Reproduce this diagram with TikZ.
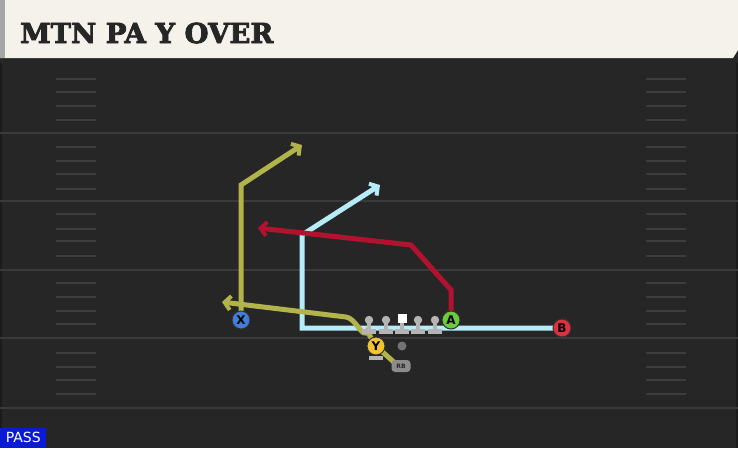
\documentclass[tikz,border=0pt]{standalone}
\usepackage{fontspec}
\setmainfont{DejaVu Sans}
\newfontfamily\titlefont[FakeBold=3]{DejaVu Serif Bold}
\usetikzlibrary{arrows.meta}
\definecolor{fieldbg}{HTML}{262626}
\definecolor{yardc}{HTML}{3A3A3A}
\definecolor{hashc}{HTML}{3D3D3D}
\definecolor{titlebg}{HTML}{F5F2EB}
\definecolor{olive}{HTML}{B3B34C}
\definecolor{lblue}{HTML}{B5ECF7}
\definecolor{rred}{HTML}{B3122E}
\definecolor{xblue}{HTML}{3F7FDB}
\definecolor{agreen}{HTML}{6CCB3A}
\definecolor{bred}{HTML}{E0303F}
\definecolor{yyellow}{HTML}{F2C331}
\definecolor{olgray}{HTML}{B4B4B4}
\definecolor{passblue}{HTML}{0A1BD6}
\tikzset{
  route/.style={line width=5pt, line join=miter},
  routetip/.style={-{Straight Barb[length=6pt,width=14pt,line width=4pt]}},
  player/.style={circle, draw=black!80, line width=1pt, minimum size=18pt, inner sep=0pt, font=\bfseries\fontsize{12}{12}\selectfont, text=black},
  yardline/.style={yardc, line width=2.5pt},
  hashmark/.style={hashc, line width=2pt},
}
\begin{document}
\begin{tikzpicture}[x=1pt,y=-1pt]
\useasboundingbox (0,0) rectangle (738,448);
% field
\fill[fieldbg] (0,0) rectangle (738,448);
\fill[black!30!fieldbg] (0,62) rectangle (2,448);
\fill[black!30!fieldbg] (736,62) rectangle (738,448);
% yard lines
\foreach \yy in {133,201,270,338,408} {\draw[yardline] (0,\yy) -- (738,\yy);}
% hash marks
\foreach \yy in {79,92,106,120,147,161,174,189,214,229,241,256,283,297,311,324,353,367,380,394} {
  \draw[hashmark] (56,\yy) -- (96,\yy);
  \draw[hashmark] (646,\yy) -- (686,\yy);
}
% title bar
\fill[black!85] (0,56) rectangle (738,63);
\fill[titlebg] (0,0) -- (738,0) -- (738,50) -- (733,58) -- (0,58) -- cycle;
\fill[black!35] (0,0) rectangle (5,58);
\node[anchor=west, inner sep=0pt, text=black!85, font=\titlefont\fontsize{27.5}{27.5}\selectfont] (title) at (20,33) {MTN PA Y OVER};
% coordinates
\coordinate (xp) at (241,320);
\coordinate (ap) at (451,320);
\coordinate (bp) at (562,328);
\coordinate (yp) at (376,346);
% X route
\coordinate (x1) at (241,185);
\coordinate (x2) at (302,145);
\draw[route, olive, routetip] (xp) -- (x1) -- (x2);
% light blue route
\coordinate (b1) at (302,328);
\coordinate (b2) at (302,235);
\coordinate (b3) at (380,185);
\draw[route, lblue, routetip] (bp) -- (b1) -- (b2) -- (b3);
% red route
\coordinate (a1) at (451,290);
\coordinate (a2) at (411,245);
\coordinate (a3) at (258,228);
\draw[route, rred, routetip] (ap) -- (a1) -- (a2) -- (a3);
% Y route
\coordinate (y0) at (396,364);
\coordinate (y1) at (367,331);
\coordinate (y2) at (346,317);
\coordinate (y3) at (222,302);
\draw[route, olive, routetip] (y0) -- (yp) -- (y1) to[out=-115,in=-5] (y2) -- (y3);
% linemen
\foreach \lx/\nm in {369/l1,386/l2,418/l4,435/l5} {
  \fill[olgray] (\lx-2,321) rectangle (\lx+2,331);
  \fill[olgray] (\lx-7,329) rectangle (\lx+7,334);
  \fill[olgray] (\lx,320) circle (4.2);
}
\fill[olgray] (400,321) rectangle (404,331);
\fill[olgray] (395,329) rectangle (409,334);
\fill[white] (397.5,313.5) rectangle (406.5,322.5);
% QB dot
\fill[black!55] (402,346) circle (4.5);
% Y base
\fill[olgray] (369,356) rectangle (383,360);
% RB tag
\node[fill=black!45, rounded corners=3.5pt, minimum width=19pt, minimum height=12pt, inner sep=0pt, text=black!85, font=\fontsize{6}{6}\selectfont\bfseries] (rb) at (401,366) {RB};
% players
\node[player, fill=xblue] (X) at (xp) {X};
\node[player, fill=agreen] (A) at (ap) {A};
\node[player, fill=bred] (B) at (bp) {B};
\node[player, fill=yyellow] (Y) at (yp) {Y};
% pass label
\node[fill=passblue, anchor=south west, minimum width=46pt, minimum height=20pt, inner sep=0pt, text=white, font=\fontsize{14}{14}\selectfont] (pass) at (0,448) {PASS};
\end{tikzpicture}
\end{document}
